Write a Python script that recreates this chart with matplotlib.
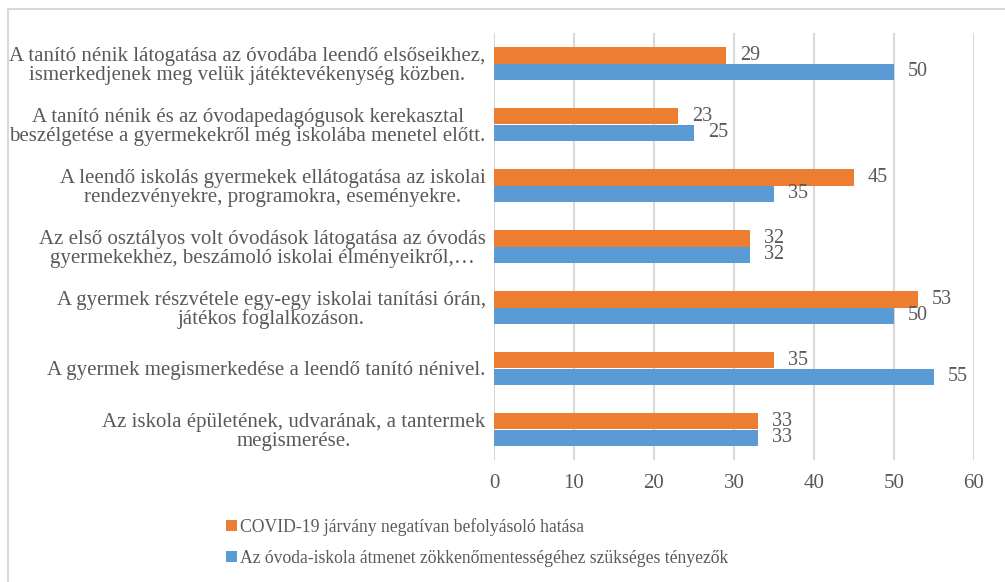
import numpy as np
import matplotlib
matplotlib.use('Agg')
import matplotlib.pyplot as plt
from matplotlib.patches import Rectangle

plt.rcParams['font.family'] = 'serif'
plt.rcParams['font.serif'] = ['Liberation Serif', 'DejaVu Serif']

categories = [
    'A tanító nénik látogatása az óvodába leendő elsőseikhez,\nismerkedjenek meg velük játéktevékenység közben.',
    'A tanító nénik és az óvodapedagógusok kerekasztal\nbeszélgetése a gyermekekről még iskolába menetel előtt.',
    'A leendő iskolás gyermekek ellátogatása az iskolai\nrendezvényekre, programokra, eseményekre.',
    'Az első osztályos volt óvodások látogatása az óvodás\ngyermekekhez, beszámoló iskolai élményeikről,…',
    'A gyermek részvétele egy-egy iskolai tanítási órán,\njátékos foglalkozáson.',
    'A gyermek megismerkedése a leendő tanító nénivel.',
    'Az iskola épületének, udvarának, a tantermek\nmegismerése.',
]
covid = [29, 23, 45, 32, 53, 35, 33]
atmenet = [50, 25, 35, 32, 50, 55, 33]
series_names = ['COVID-19 járvány negatívan befolyásoló hatása',
                'Az óvoda-iskola átmenet zökkenőmentességéhez szükséges tényezők']

orange = '#ED7D31'
blue = '#5B9BD5'
text_col = '#595959'
grid_col = '#D9D9D9'
fs = 15
fs_leg = 12.7

fig = plt.figure(figsize=(10.05, 5.82), dpi=100)
W, H = 1005, 582
ax = fig.add_axes([494 / W, 1 - 460 / H, (974 - 494) / W, (460 - 33) / H])

y = np.arange(len(categories))
h = 0.265
b1 = ax.barh(y - h / 2, covid, height=h, color=orange, label=series_names[0], zorder=3)
b2 = ax.barh(y + h / 2, atmenet, height=h, color=blue, label=series_names[1], zorder=3)
for bars, vals in ((b1, covid), (b2, atmenet)):
    ax.bar_label(bars, labels=[str(v) for v in vals], padding=10, fontsize=14.5,
                 color=text_col)

ax.set_xlim(0, 60)
ax.set_ylim(len(categories) - 0.5, -0.5)
ax.set_xticks(range(0, 61, 10))
ax.set_yticks(y)
ax.set_yticklabels(categories, multialignment='center', fontsize=fs, color=text_col,
                   linespacing=1.0)
ax.tick_params(axis='x', labelsize=fs, labelcolor=text_col, length=0, pad=10)
ax.tick_params(axis='y', length=0, pad=6)
ax.grid(axis='x', color=grid_col, linewidth=1.5, zorder=0)
for s in ax.spines.values():
    s.set_visible(False)

fig.legend(handles=[b1, b2], loc='upper left', bbox_to_anchor=(217 / W, 1 - 509 / H),
           frameon=False, fontsize=fs_leg, labelcolor=text_col, handlelength=0.65,
           handleheight=0.65, handletextpad=0.15, labelspacing=0.8, borderpad=0)

fig.patches.append(Rectangle((8 / W, -0.1), 1.2, 1 - 9 / H + 0.1, transform=fig.transFigure,
                             fill=False, edgecolor=grid_col, linewidth=1.5))

fig.savefig('out.png', dpi=100)
